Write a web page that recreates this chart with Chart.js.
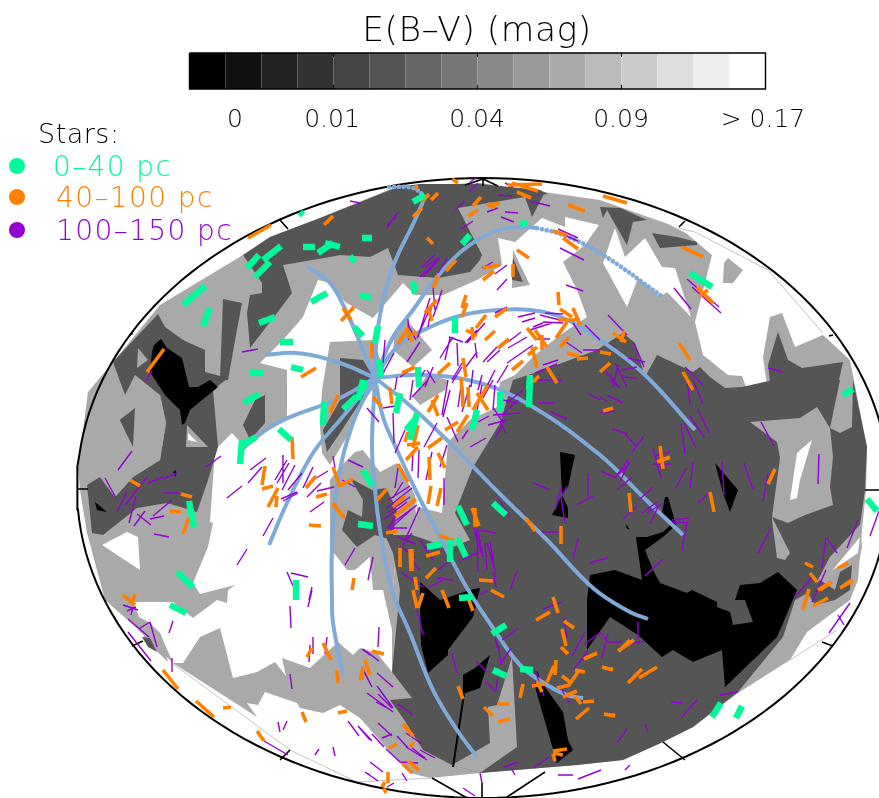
<!DOCTYPE html>
<html>
<head>
<meta charset="utf-8">
<title>E(B-V) map</title>
<script src="https://cdn.jsdelivr.net/npm/chart.js@4"></script>
<style>
  html, body { margin: 0; padding: 0; background: #fff; overflow: hidden; }
  canvas { display: block; }
</style>
</head>
<body>
<canvas id="chart" width="879" height="798"></canvas>
<script>
// colour bar
const barGrays = ['#000000','#111111','#222222','#333333','#444444','#555555','#666666','#777777',
                  '#888888','#999999','#aaaaaa','#bbbbbb','#cccccc','#dddddd','#eeeeee','#ffffff'];
const barLabels = ['0', '0.01', '0.04', '0.09', '> 0.17'];
const barLabelX = [235, 332, 477, 621, 763];
const barTickX = [333.5, 477.5, 621.5];

const legendNames = ['0\u201340 pc', '40\u2013100 pc', '100\u2013150 pc'];
const legendColors = ['#00fa9a', '#ff7f00', '#9400d3'];
const legendY = [166, 197, 230];

const LIGHT = '#a9a9a9', DARK = '#555555', BLACK = '#000000', WHITE = '#ffffff';

// extinction regions, in map position, painted in this order
const lightBase = [398,186,480,183,600,200,668,224,712,246,768,270,823,335,850,360,867,447,866,490,862,530,858,580,850,600,807,632,790,660,738,693,693,727,663,742,623,760,577,765,480,773,430,778,410,773,397,760,360,718,340,705,323,713,300,708,297,703,265,692,258,705,247,703,257,717,173,663,130,622,105,600,87,533,80,490,78,468,88,392,113,362,160,305,243,255,270,237,320,218];
const whiteCenter = [318,280,330,283,345,302,373,318,403,283,415,295,443,295,477,280,502,265,498,238,515,242,542,218,565,227,565,217,599,225,585,245,563,262,577,290,587,317,560,335,535,355,515,375,500,382,497,407,470,420,448,442,442,513,417,507,415,537,397,540,393,590,383,590,392,630,392,672,377,653,360,648,353,655,338,642,310,668,282,658,286,676,275,662,257,672,233,678,220,628,200,637,183,663,173,663,160,633,139,617,133,602,173,602,193,618,217,600,227,603,228,590,235,585,200,594,193,583,208,547,213,523,210,522,215,450,232,433,243,445,287,420,287,370,260,363,283,340,303,317];
const whiteLobes = [603,263,615,228,625,257,645,238,662,267,675,268,691,317,667,292,660,297,638,278,627,307];
const whiteEast = [680,228,712,255,695,322,703,355,728,375,742,376,750,398,757,410,770,410,767,385,763,357,770,317,782,313,795,347,823,335,790,290,768,270];
const whiteWest1 = [102,545,127,532,138,537,140,570];
const whiteWest2 = [145,397,153,422,152,440,140,450];
const lightBits = [
  [728,258,743,270,733,283,723,283,724,263],
  [513,250,530,285,512,288],
  [395,330,407,320,432,350,413,367,393,350],
  [413,397,420,405,445,390,448,380,427,375],
  [330,342,373,340,385,372,365,400,345,440,330,465,322,453,320,427,322,390],
  [363,450,380,472,397,463,415,495,417,537,397,540,393,590,373,590,370,557,355,570,347,570,330,548,330,480,340,467,355,452],
  [139,617,150,623,160,633,168,662,145,640]
];
const darkTop = [243,255,270,237,320,218,398,187,420,184,480,184,540,190,548,194,525,197,458,208,482,255,480,260,470,272,438,278,398,275,388,248,370,257,340,255,330,257,283,265,292,293,277,313,250,348,247,313,250,295,262,293,262,283];
const darkMain = [513,380,537,372,570,360,597,350,623,333,635,343,645,377,657,355,693,372,700,367,710,377,725,388,742,387,773,380,840,380,853,380,867,447,865,490,860,525,830,557,813,590,795,600,783,637,738,692,693,727,663,742,623,760,577,765,480,773,452,765,423,750,403,718,390,700,412,698,392,672,400,590,393,553,385,535,412,535,450,548,470,540,455,513,473,467,500,423];
const darkBits = [
  [525,197,545,192,532,217],
  [600,207,603,218,607,210,627,245,633,222,647,220,620,208],
  [652,233,660,248,697,245,697,242,677,237],
  [513,258,523,282,512,280],
  [778,332,788,360,802,368,843,362,828,428,817,407,800,418,773,407,768,365],
  [113,362,158,314,165,327,183,340,205,350,205,372,228,378,213,390,218,447,208,480,197,512,167,503,137,508,103,535,92,533,87,485,100,477,115,497,133,477,160,460,166,423,160,395,135,375,125,395],
  [223,299,242,303,236,335,228,380,220,380],
  [243,425,255,400,265,395,265,423,250,440],
  [340,358,363,360,375,380,355,410,340,433,327,452,323,430,340,400],
  [350,478,372,490,386,488,397,510,392,540,375,535,357,547,342,530,348,510,362,517,363,500],
  [135,408,120,420,133,447],
  [150,395,165,423,130,440],
  [142,637,150,638,157,652,148,647]
];
const lightOnDark = [
  [512,657,517,747,480,773,452,765,490,743,488,707,497,705],
  [750,422,800,418,817,407,830,428,833,457,830,487,833,505,805,515,788,523,772,517,780,458,777,442],
  [840,380,830,428,840,433,852,427,853,380],
  [772,517,790,553,785,560,777,558,772,520],
  [813,590,830,557,860,525,862,547,853,590,830,610,810,610],
  [138,348,148,360,137,368],
  [187,425,208,447,186,447],
  [100,477,115,497,133,477,160,460,166,423,160,395,140,388,125,420,130,447,118,470]
];
const darkOnLight = [[135,408,120,420,133,447],[807,592,820,580,835,590,840,572,852,565,850,590,835,600,815,605]];
const whiteSlivers = [
  [812,440,797,453,790,500,797,498,800,480],
  [827,577,860,537,858,553,833,570],
  [188,433,197,442,188,440]
];
const blackRegions = [
  [587,650,587,600,590,575,615,570,642,580,636,537,647,537,663,532,673,523,662,513,665,497,668,497,676,525,663,537,645,550,653,570,660,583,687,593,692,590,717,602,717,607,730,612,733,625,753,622,745,600,735,600,740,585,760,583,778,572,797,590,783,623,777,637,725,687,722,650,693,662,673,650,662,657,638,635,610,617],
  [715,463,738,490,730,512,723,493],
  [560,452,575,455,568,487,562,495,568,508,568,518,552,515,562,495],
  [626,524,630,530,626,528],
  [420,582,440,600,470,590,480,588,473,617,448,650,448,655,428,673,421,645,420,600],
  [490,655,480,688,463,694,463,675,475,668],
  [463,694,465,694,454,767,452,767],
  [537,670,540,680,563,712,568,740,573,750,557,763,535,687],
  [154,345,161,339,167,348,182,358,189,387,198,387,210,380,218,387,190,410,185,423,182,425,180,410,165,395,150,372,152,352],
  [95,502,107,512,97,510],
  [173,472,176,470,176,477]
];

// galactic-centre tracks
const tracksSolid = [
  [375,378,378,327,393,267,415,220,425,197],
  [375,378,393,337,413,310,437,277,463,250,493,232,517,227,537,228],
  [375,378,397,347,430,327,463,315,497,310,530,310,563,318,600,340,643,373,695,430],
  [375,378,423,375,480,383,533,407,600,455,643,497,683,535],
  [375,378,407,403,447,440,503,497,547,540,593,588,630,612,648,619],
  [375,378,383,417,397,450,417,493,440,537,467,588,493,628,520,665,547,685,567,695,583,698],
  [375,378,372,447,375,490,380,530,392,590,410,633,433,690,457,730,477,757],
  [375,378,353,423,337,487,332,550,332,600,333,623,343,675],
  [375,378,340,398,277,423,247,445,240,452],
  [375,378,340,420,313,453,287,503,269,545],
  [375,378,340,363,297,353,265,355],
  [375,378,363,350,347,313,330,283,308,267]
];
const tracksDotted = [
  [425,197,413,188,388,187],
  [537,228,563,235,600,253,663,297]
];

// star polarisation segments: x1,y1,x2,y2
const starsNear = [
  [300,212,303,215],[247,268,259,255],[263,260,281,246],[255,277,270,262],[303,247,315,247],[318,253,333,243],[325,243,340,247],[183,305,205,286],[203,326,210,308],[259,323,275,317],[280,342,293,342],[311,302,327,293],[250,373,263,373],[291,367,303,370],
  [413,202,425,195],[362,238,372,238],[350,256,355,262],[360,295,371,298],[462,244,470,235],[520,225,527,222],[413,282,415,294],[455,317,455,333],[354,327,363,336],[378,326,375,343],[379,360,381,377],[418,367,419,387],[530,375,529,390],[365,380,363,390],
  [690,273,712,287],[843,395,853,389],[867,499,877,511],
  [244,403,259,394],[324,402,323,425],[279,429,291,440],[240,464,242,440],[242,445,256,437],[189,501,194,527],[177,572,193,587],[296,580,296,600],
  [363,380,358,400],[343,409,357,396],[400,393,396,413],[500,392,500,412],[530,380,529,407],[477,410,472,430],[417,413,410,440],[406,430,417,417],[363,470,372,486],[358,524,373,526],[458,506,467,525],[493,503,506,515],[427,547,442,544],[450,540,450,562],[457,538,466,557],
  [459,598,473,597],[492,634,506,625],[493,670,506,676],[520,669,533,670],[170,605,186,613],[712,717,721,703],[736,718,742,706]
];
const starsMid = [
  [248,238,271,225],[324,225,333,216],[147,372,164,349],[301,377,316,368],
  [452,179,458,183],[508,185,542,184],[512,183,538,191],[517,192,531,198],[416,185,417,190],[422,202,429,194],[431,200,438,193],[413,217,422,208],[473,206,481,197],[468,216,478,210],[487,206,500,203],[488,203,495,208],[568,205,585,211],[427,238,433,244],[517,250,529,258],[563,238,578,249],[553,231,567,235],[446,271,456,260],[433,288,438,276],[483,268,500,265],[483,280,494,271],[513,264,513,277],[558,292,559,305],[341,321,354,307],[343,308,351,320],[462,308,466,295],[462,317,467,303],[425,313,437,300],[428,308,432,321],[495,317,507,308],[476,328,486,315],[466,330,477,336],[472,327,473,340],[485,340,495,331],[498,348,509,339],[527,328,537,340],[535,330,547,347],[542,335,542,350],[560,309,572,317],[573,308,580,325],[558,320,580,320],[556,338,567,322],[560,347,569,337],[567,353,579,356],[577,359,588,358],[372,342,372,358],[398,344,407,330],[407,328,412,342],[407,337,417,332],[402,373,415,367],[438,374,450,363],[463,358,466,377],[461,378,462,390],[512,370,523,361],[528,355,537,347],[532,347,537,368],[547,367,557,383],[533,382,539,376],
  [603,196,627,203],[682,247,703,257],[697,287,713,303],[700,296,708,290],[613,333,626,342],[624,331,621,342],[600,352,611,354],[600,372,610,363],[679,343,690,360],[683,372,693,390],
  [603,411,613,408],[660,446,663,469],[657,462,670,457],[629,493,631,512],[710,492,714,512],[775,469,768,484],[805,563,813,567],[810,573,817,582],[818,590,831,582],[838,568,848,563],[840,588,852,580],
  [130,480,140,486],[181,494,192,497],[170,511,181,512],[183,534,189,517],[292,437,293,459],[265,466,262,485],[262,489,273,486],[278,488,268,507],[277,496,276,507],[316,476,306,488],[316,497,327,494],[309,525,321,526],[333,467,340,487],[333,503,340,512],[123,595,135,605],[135,594,132,603],
  [330,413,338,395],[373,397,382,407],[390,388,392,404],[428,412,438,395],[432,400,438,416],[462,387,463,407],[468,387,469,407],[473,410,488,385],[477,393,488,410],[445,430,458,422],[457,432,468,415],[413,448,418,425],[405,442,408,432],[407,445,420,443],[406,460,418,447],[428,448,442,438],[438,453,445,468],[429,457,430,480],[398,464,408,482],[339,486,353,479],[377,500,387,489],[393,507,405,496],[395,516,416,499],[431,486,428,504],[441,488,437,506],[333,504,345,518],[472,508,479,526],[475,508,475,527],[526,518,535,531],[561,526,561,544],[386,533,398,531],[439,535,454,541],[400,548,400,567],[410,549,411,571],[412,549,412,571],[426,556,440,552],[426,578,436,568],[479,580,493,581],[415,577,417,590],[354,578,352,590],
  [442,590,449,608],[413,590,417,608],[423,593,418,608],[467,595,473,611],[491,590,504,597],[553,597,558,613],[536,620,550,612],[564,621,574,628],[562,629,566,646],[561,647,568,654],[619,651,630,640],[584,659,597,653],[602,667,613,670],[556,660,555,675],[547,682,554,666],[562,676,570,682],[557,688,570,685],[569,685,578,672],[575,670,585,672],[563,697,577,691],[575,696,581,704],[583,702,594,701],[576,719,589,708],[604,714,615,716],[532,686,545,684],[537,681,542,692],[520,698,523,684],[458,686,463,699],[497,704,509,704],[484,707,493,716],[498,722,510,719],[553,751,567,749],[553,753,563,755],[553,754,555,761],[372,651,384,654],[365,660,370,675],[360,680,363,668],[403,724,413,736],[389,748,397,744],[410,747,414,742],[408,761,419,770],[403,764,412,773],[388,772,388,783],[382,787,385,782],[384,788,386,793],
  [163,670,178,689],[196,701,214,717],[223,708,231,707],[257,731,264,741],[302,712,306,722],[338,713,347,711],[307,657,312,648],[323,643,331,660],[337,670,338,683],[362,680,363,667],
  [618,651,634,640],[628,683,642,669],[639,678,657,667],[803,610,809,589],[813,606,828,598],[820,590,832,582],[840,588,853,581],[610,715,615,715],[610,669,613,669]
];
const starsFar = [
  [242,352,258,349],[145,382,152,371],[350,201,360,203],[387,228,398,212],[387,225,396,217],[469,192,478,183],[470,182,476,178],[455,210,465,201],[498,195,512,196],[505,183,513,187],[530,201,550,206],[487,212,498,208],[505,212,518,213],[501,217,514,222],[461,229,473,221],[558,229,578,238],[560,233,578,241],[560,248,584,260],[420,277,440,258],[423,277,439,259],[422,267,435,255],[425,267,438,258],[438,273,447,258],[482,268,493,262],[495,274,507,265],[497,290,507,279],[566,285,583,291],
  [433,287,435,310],[438,302,442,290],[433,317,440,298],[428,327,432,303],[418,337,430,298],[417,338,428,313],[408,319,409,340],[408,325,416,340],[407,362,420,342],[385,340,383,363],[383,373,394,353],[400,377,415,367],[440,358,453,337],[449,337,463,342],[450,338,445,360],[457,343,458,366],[465,343,477,330],[467,343,485,323],[475,343,477,358],[465,368,477,352],[452,380,462,363],[483,362,497,347],[487,362,500,350],[508,348,527,337],[508,342,521,332],[507,363,533,345],[518,317,535,313],[522,322,535,318],[495,313,507,307],[533,327,543,323],[530,330,552,323],[540,315,560,320],[545,313,563,314],[543,322,563,323],[537,339,550,339],[585,325,600,340],[573,323,581,335],[566,342,582,353],[583,350,600,350],[543,365,558,360],[535,373,557,364],[533,380,563,380],[427,370,435,383],[425,370,417,383],[433,367,425,387],[452,383,462,367],[473,370,471,387],[482,375,478,390],[495,370,485,390],[397,377,395,390],[497,383,508,365],
  [674,288,691,309],[687,279,719,307],[692,287,721,313],[608,315,627,335],[634,343,644,367],[628,358,645,362],[622,370,637,367],[621,377,638,378],[615,363,627,387],[605,370,620,388],[618,365,613,387],[685,367,703,385],[693,380,703,404],[687,380,690,405],[768,368,783,372],
  [698,409,709,433],[690,416,704,437],[684,423,696,448],[681,424,685,453],[761,422,774,446],[819,454,818,484],[722,462,724,495],[744,463,753,489],[768,474,763,502],[686,468,676,488],[693,462,690,488],[653,448,661,478],[653,464,672,464],[655,456,670,452],[612,429,628,434],[625,434,637,447],[632,452,644,436],[601,471,616,478],[615,478,628,460],[618,475,630,463],[620,482,629,462],[617,490,632,477],[640,499,653,487],[623,519,637,506],[642,513,657,502],[647,513,663,503],[650,524,658,507],[697,504,709,493],[672,520,689,518],[672,522,688,523],[687,523,682,550],[645,576,663,559],[758,553,771,528],[822,568,826,537],[827,538,837,553],[847,548,858,520],[870,536,879,511],[600,560,607,558],[607,395,623,403],[600,397,608,402],[600,413,615,411],[610,380,620,388],
  [534,483,550,490],[561,498,567,486],[555,510,561,488],[561,497,565,523],[588,473,588,497],[577,505,593,496],[573,559,578,538],[590,563,600,560],[538,403,555,403],[551,412,567,419],[587,393,600,400],[510,590,517,571],[542,532,560,532],[470,447,486,438],[462,439,468,430],[478,422,489,416],[447,417,458,442],[507,403,523,390],[500,417,518,400],[493,415,520,413],[488,425,507,420],[495,438,505,420],[500,422,506,433],[493,407,503,423],[503,400,517,403],[448,380,442,415],[450,390,443,417],[462,380,458,407],[470,385,462,412],[493,380,483,398],[495,385,493,410],[482,385,477,410],[413,380,410,400],[412,397,428,380],[383,408,395,406],[367,408,379,422],[393,413,394,443],[447,445,440,467],[424,447,437,423],[405,430,395,453],[419,450,418,478],[413,452,412,471],[432,452,426,480],[444,478,444,505],[398,468,395,488],[333,456,335,468],[348,460,363,467],[342,480,355,487],
  [388,500,410,486],[387,508,412,488],[393,498,403,482],[387,527,417,505],[392,527,413,508],[383,520,407,502],[387,513,410,497],[389,528,397,513],[388,528,407,528],[405,540,420,507],[498,498,510,517],[345,565,355,548],[368,580,373,557],[474,528,481,553],[477,528,483,557],[479,530,496,533],[485,543,487,570],[487,543,495,570],[490,542,496,577],[477,530,478,572],[462,560,477,553],[438,570,448,562],[437,578,453,580],[420,540,433,560],[397,537,416,544],[402,547,415,558],[412,533,403,545],[413,562,420,570],[402,573,423,587],[428,588,443,580],[493,572,496,587],
  [118,470,132,451],[105,478,116,498],[117,512,127,492],[125,505,147,477],[129,523,136,496],[148,483,163,477],[163,479,177,473],[164,493,179,493],[153,516,172,500],[150,519,164,516],[137,514,151,525],[134,526,145,511],[154,534,169,537],[206,467,221,456],[250,470,266,458],[248,483,262,467],[227,498,242,486],[275,480,287,460],[277,483,289,463],[283,455,283,483],[282,490,295,465],[288,490,302,473],[281,499,297,492],[283,501,298,493],[303,488,313,467],[307,497,321,483],[313,480,328,471],[317,491,334,487],[310,512,324,502],[263,536,273,518],[237,565,247,549],[287,572,293,586],[291,573,308,577],[309,600,312,587],
  [308,607,312,590],[290,606,291,628],[169,633,173,621],[172,658,172,672],[290,674,292,689],[310,645,309,662],[313,637,313,654],[327,637,325,654],[362,667,370,683],[362,649,370,655],[348,721,359,736],[358,726,370,740],[278,722,280,732],[287,721,283,730],[264,741,288,755],[315,755,319,749],[333,747,335,756],[365,772,370,775],[123,605,138,610],[127,611,136,607],[131,615,133,607],[128,619,149,637],[140,628,150,622],[150,622,157,647],[128,632,151,661],
  [543,609,562,602],[564,618,567,638],[572,656,585,632],[574,669,588,651],[584,644,600,633],[600,632,608,642],[602,658,608,633],[608,642,622,642],[502,640,518,628],[495,638,498,648],[498,645,501,663],[500,665,511,648],[476,661,487,672],[486,682,496,692],[498,677,496,690],[452,653,457,673],[417,610,423,635],[479,595,488,590],[535,670,544,696],[562,690,569,703],
  [379,627,378,647],[363,649,379,661],[362,668,372,687],[377,673,393,687],[367,693,393,712],[377,686,393,708],[378,694,392,708],[376,702,387,708],[398,704,413,715],[378,723,392,736],[382,738,392,734],[360,728,372,741],[372,734,384,747],[397,736,408,748],[406,733,422,744],[406,747,427,760],[412,748,425,758],[420,750,435,758],[386,749,400,762],[400,762,418,763],[370,762,383,772],[365,772,378,781],[402,773,407,781],[387,787,394,783],[463,788,475,796],[480,773,482,783],[504,767,518,762],[511,768,515,775],[533,768,549,757],[558,775,573,775],[578,779,601,770],[617,743,627,729],[625,770,630,765],
  [638,622,638,640],[627,645,643,641],[795,597,812,577],[812,602,826,570],[829,633,850,603],[838,615,844,625],[720,695,738,692],[671,702,683,703],[681,718,697,700],[645,724,648,732]
];

// frame ticks and the faint inner edge of the map
const frameTicks = [
  [483,178,483,186],[483,179,465,185],[483,179,498,186],[280,220,288,229],[685,221,679,227],[833,335,829,336],[133,333,130,335],[77,489,88,489],[865,490,879,490],[132,646,143,641],[280,760,290,750],[822,642,833,646],[663,742,685,760],[432,778,467,798],[545,772,507,797],[482,783,482,798]
];
const innerEdges = [
  [172,663,290,750,357,782,432,778],
  [678,228,695,232,768,270,823,333],
  [837,630,790,660]
];

function toPoints(flat) {
  const pts = [];
  for (let i = 0; i < flat.length; i += 2) pts.push({ x: flat[i], y: flat[i + 1] });
  return pts;
}
function toBroken(list) {
  const pts = [];
  list.forEach(s => {
    pts.push(...toPoints(s));
    pts.push({ x: null, y: null });
  });
  return pts;
}

const datasets = [];
function addLine(data, color, width, extra) {
  datasets.push(Object.assign({
    data: data, borderColor: color, backgroundColor: color, borderWidth: width,
    pointRadius: 0, tension: 0, fill: false, showLine: true, spanGaps: false
  }, extra || {}));
}
function addRegion(flat, color) {
  addLine(toPoints(flat), 'transparent', 0, { backgroundColor: color, fill: 'shape' });
}

// map
addRegion(lightBase, LIGHT);
addRegion(whiteCenter, WHITE);
addRegion(whiteLobes, WHITE);
addRegion(whiteEast, WHITE);
addRegion(whiteWest1, WHITE);
addRegion(whiteWest2, WHITE);
lightBits.forEach(r => addRegion(r, LIGHT));
addRegion(darkTop, DARK);
addRegion(darkMain, DARK);
darkBits.forEach(r => addRegion(r, DARK));
lightOnDark.forEach(r => addRegion(r, LIGHT));
darkOnLight.forEach(r => addRegion(r, DARK));
whiteSlivers.forEach(r => addRegion(r, WHITE));
blackRegions.forEach(r => addRegion(r, BLACK));
addLine(toBroken(innerEdges), '#c4c4c4', 1);

// outline of the projection
const outline = [];
for (let a = 0; a <= 360; a += 2) {
  outline.push({ x: 483 + 406 * Math.cos(a * Math.PI / 180), y: 488 + 310 * Math.sin(a * Math.PI / 180) });
}
addLine(outline, '#000000', 2);
addLine(toBroken(frameTicks), '#000000', 1.6);

// tracks and stars
addLine(toBroken(tracksSolid), '#7fa9d6', 4, { tension: 0.4, borderJoinStyle: 'round' });
addLine(toBroken(tracksDotted), '#7fa9d6', 4.6, { tension: 0.4, borderDash: [0.1, 4.8], borderCapStyle: 'round' });
addLine(toBroken(starsFar), '#9400d3', 1.4);
addLine(toBroken(starsMid), '#ff7f00', 3.6);
addLine(toBroken(starsNear), '#00fa9a', 6.4);

// colour bar cells
barGrays.forEach((g, i) => {
  addLine([{ x: 189.5 + i * 36, y: 71 }, { x: 225.5 + i * 36, y: 71 }], g, 36);
});
addLine(toPoints([189.5,53,765.5,53,765.5,89,189.5,89,189.5,53]), '#000000', 1.4);
addLine(toBroken(barTickX.flatMap(x => [[x,53,x,57],[x,85,x,89]])), '#000000', 1);

// legend dots
legendColors.forEach((c, i) => {
  addLine([{ x: 17, y: legendY[i] }], c, 0, { pointRadius: 8, pointBackgroundColor: c, pointBorderWidth: 0, showLine: false });
});

// first dataset ends up on top otherwise
datasets.forEach((d, i) => { d.order = datasets.length - i; });

const textPlugin = {
  id: 'textPlugin',
  afterDraw(chart) {
    const { ctx, scales: { x, y } } = chart;
    function put(text, px, py, size, color, align, spacing) {
      ctx.save();
      ctx.font = '200 ' + size + 'px "DejaVu Sans"';
      ctx.letterSpacing = (spacing || 0) + 'px';
      ctx.fillStyle = color;
      ctx.textAlign = align;
      ctx.textBaseline = 'alphabetic';
      ctx.fillText(text, x.getPixelForValue(px), y.getPixelForValue(py));
      ctx.restore();
    }
    put('E(B\u2013V) (mag)', 477, 41, 34.5, '#000000', 'center', 0.5);
    barLabels.forEach((t, i) => put(t, barLabelX[i], 127, 25, '#000000', 'center', 0));
    put('Stars:', 38, 143, 27, '#000000', 'left', 0.5);
    legendNames.forEach((t, i) => put(t, i === 0 ? 53 : 56, legendY[i] + 10, 28, legendColors[i], 'left', 1.4));
  }
};

new Chart(document.getElementById('chart'), {
  type: 'line',
  data: { datasets: datasets },
  plugins: [textPlugin],
  options: {
    responsive: false,
    animation: false,
    parsing: { xAxisKey: 'x', yAxisKey: 'y' },
    layout: { padding: 0, autoPadding: false },
    plugins: { legend: { display: false }, tooltip: { enabled: false }, title: { display: false } },
    scales: {
      x: { type: 'linear', min: 0, max: 879, display: false },
      y: { type: 'linear', min: 0, max: 798, reverse: true, display: false }
    }
  }
});
</script>
</body>
</html>
